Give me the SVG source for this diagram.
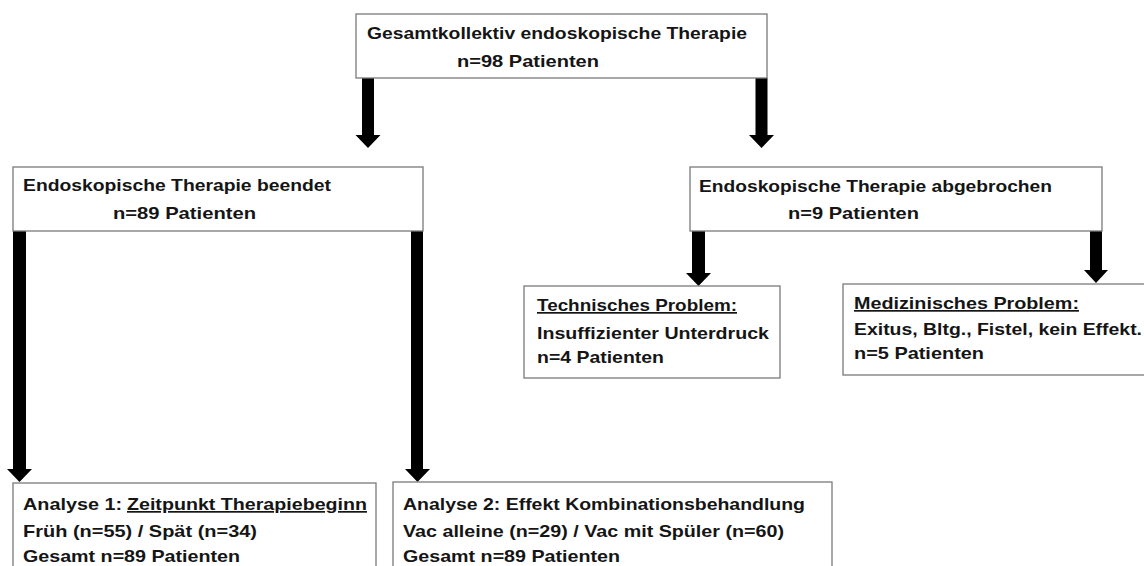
<svg xmlns="http://www.w3.org/2000/svg" width="1144" height="566" viewBox="0 0 1144 566">
<style>
.box{fill:#fff;stroke:#7a7a7a;stroke-width:1.3}
.t{font-family:"Liberation Sans",Arial,sans-serif;font-weight:bold;font-size:17px;fill:#151515}
.u{text-decoration:underline}
.arr{fill:#000}
</style>
<rect width="1144" height="566" fill="#fff"/>
<g id="connectors">
<polygon class="arr" points="362,78 374,78 374,135 380.5,135 368,148 355.5,135 362,135"/>
<polygon class="arr" points="755.5,78 767.5,78 767.5,135 774,135 761.5,148 749,135 755.5,135"/>
<polygon class="arr" points="13,231 26,231 26,469 32,469 19.5,482 7,469 13,469"/>
<polygon class="arr" points="411,231 423,231 423,469 430,469 417.5,482 405,469 411,469"/>
<polygon class="arr" points="692,231 705,231 705,273 711,273 698.5,286 686,273 692,273"/>
<polygon class="arr" points="1090,231 1102,231 1102,270 1108,270 1096,283 1084,270 1090,270"/>
</g>
<g id="node-gesamt">
<rect class="box" x="356" y="14" width="411" height="64"/>
<text class="t" x="367" y="39" textLength="380" lengthAdjust="spacingAndGlyphs">Gesamtkollektiv endoskopische Therapie</text>
<text class="t" x="457" y="67" textLength="142" lengthAdjust="spacingAndGlyphs">n=98 Patienten</text>
</g>
<g id="node-beendet">
<rect class="box" x="13" y="167" width="410" height="64"/>
<text class="t" x="23" y="191" textLength="308" lengthAdjust="spacingAndGlyphs">Endoskopische Therapie beendet</text>
<text class="t" x="113" y="219" textLength="143" lengthAdjust="spacingAndGlyphs">n=89 Patienten</text>
</g>
<g id="node-abgebrochen">
<rect class="box" x="690" y="167" width="412" height="64"/>
<text class="t" x="699" y="192" textLength="353" lengthAdjust="spacingAndGlyphs">Endoskopische Therapie abgebrochen</text>
<text class="t" x="788" y="219" textLength="131" lengthAdjust="spacingAndGlyphs">n=9 Patienten</text>
</g>
<g id="node-technisch">
<rect class="box" x="524" y="286" width="256" height="92"/>
<text class="t u" x="537" y="311" textLength="200" lengthAdjust="spacingAndGlyphs">Technisches Problem:</text>
<text class="t" x="537" y="339" textLength="232" lengthAdjust="spacingAndGlyphs">Insuffizienter Unterdruck</text>
<text class="t" x="537" y="363" textLength="127" lengthAdjust="spacingAndGlyphs">n=4 Patienten</text>
</g>
<g id="node-medizinisch">
<rect class="box" x="843" y="284" width="310" height="91"/>
<text class="t u" x="854" y="309" textLength="225" lengthAdjust="spacingAndGlyphs">Medizinisches Problem:</text>
<text class="t" x="854" y="335" textLength="288" lengthAdjust="spacingAndGlyphs">Exitus, Bltg.,  Fistel, kein Effekt.</text>
<text class="t" x="854" y="359" textLength="130" lengthAdjust="spacingAndGlyphs">n=5 Patienten</text>
</g>
<g id="node-analyse1">
<rect class="box" x="13" y="483" width="363" height="100"/>
<text class="t" x="23" y="510" textLength="99" lengthAdjust="spacingAndGlyphs">Analyse 1:</text>
<text class="t u" x="127" y="510" textLength="240" lengthAdjust="spacingAndGlyphs">Zeitpunkt Therapiebeginn</text>
<text class="t" x="23" y="537" textLength="234" lengthAdjust="spacingAndGlyphs">Früh (n=55) / Spät (n=34)</text>
<text class="t" x="23" y="562" textLength="217" lengthAdjust="spacingAndGlyphs">Gesamt n=89 Patienten</text>
</g>
<g id="node-analyse2">
<rect class="box" x="393" y="482" width="439" height="100"/>
<text class="t" x="403" y="510" textLength="402" lengthAdjust="spacingAndGlyphs">Analyse 2: Effekt Kombinationsbehandlung</text>
<text class="t" x="403" y="537" textLength="381" lengthAdjust="spacingAndGlyphs">Vac alleine (n=29) / Vac mit Spüler (n=60)</text>
<text class="t" x="403" y="562" textLength="217" lengthAdjust="spacingAndGlyphs">Gesamt n=89 Patienten</text>
</g>
</svg>
